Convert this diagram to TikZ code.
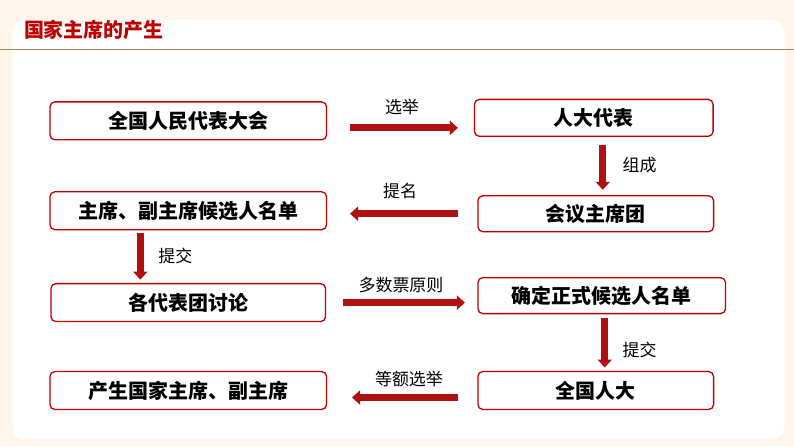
\documentclass[tikz,border=0pt]{standalone}
\usepackage{fontspec}
\setmainfont{Noto Sans CJK SC}
\usetikzlibrary{arrows.meta,positioning}
\definecolor{zhred}{HTML}{C00000}
\definecolor{darr}{HTML}{B01010}
\tikzset{
	stepbox/.style={draw=zhred, line width=1.3pt, rounded corners=5pt, minimum height=38pt, font=\fontsize{20}{20}\selectfont\bfseries, inner sep=0pt},
	flow/.style={darr, line width=7pt, -{Triangle[length=8pt,width=14pt]}},
	note/.style={font=\fontsize{17}{17}\selectfont}
}
\begin{document}
\begin{tikzpicture}[x=1pt,y=-1pt]
			% background and panel
			\fill[orange!8] (0,0) rectangle (794,447);
			\fill[white, rounded corners=12pt] (12,20) rectangle (785,440);
			\draw[brown!60!gray, line width=1pt] (0,50) -- (794,50);
			\node[anchor=west, text=zhred, font=\fontsize{20}{20}\selectfont\bfseries] (title) at (20,30) {国家主席的产生};

			% boxes
			\node[stepbox, minimum width=277pt] (npc) at (188,121) {全国人民代表大会};
			\node[stepbox, minimum width=239pt, minimum height=37pt] (deputy) at (594,118) {人大代表};
			\node[stepbox, minimum width=236pt, minimum height=36pt] (presidium) at (596,214) {会议主席团};
			\node[stepbox, minimum width=277pt] (list) at (188,211) {主席、副主席候选人名单};
			\node[stepbox, minimum width=275pt] (discuss) at (188,303) {各代表团讨论};
			\node[stepbox, minimum width=248pt, minimum height=36pt] (final) at (602,296) {确定正式候选人名单};
			\node[stepbox, minimum width=236pt] (plenary) at (596,391) {全国人大};
			\node[stepbox, minimum width=277pt] (result) at (188,391) {产生国家主席、副主席};

			% arrows
			\draw[flow] (350,128) -- (458,128);
			\node[note] (l1) at (402,107) {选举};
			\draw[flow] (603,145) -- (603,190);
			\node[note] (l2) at (640,165) {组成};
			\draw[flow] (458,214) -- (350,214);
			\node[note] (l3) at (400,191) {提名};
			\draw[flow] (140,233) -- (140,280);
			\node[note] (l4) at (175,256) {提交};
			\draw[flow] (343,303) -- (465,303);
			\node[note] (l5) at (401,285) {多数票原则};
			\draw[flow] (605,318) -- (605,368);
			\node[note] (l6) at (640,350) {提交};
			\draw[flow] (458,398) -- (352,398);
			\node[note] (l7) at (409,380) {等额选举};
		\end{tikzpicture}
\end{document}
